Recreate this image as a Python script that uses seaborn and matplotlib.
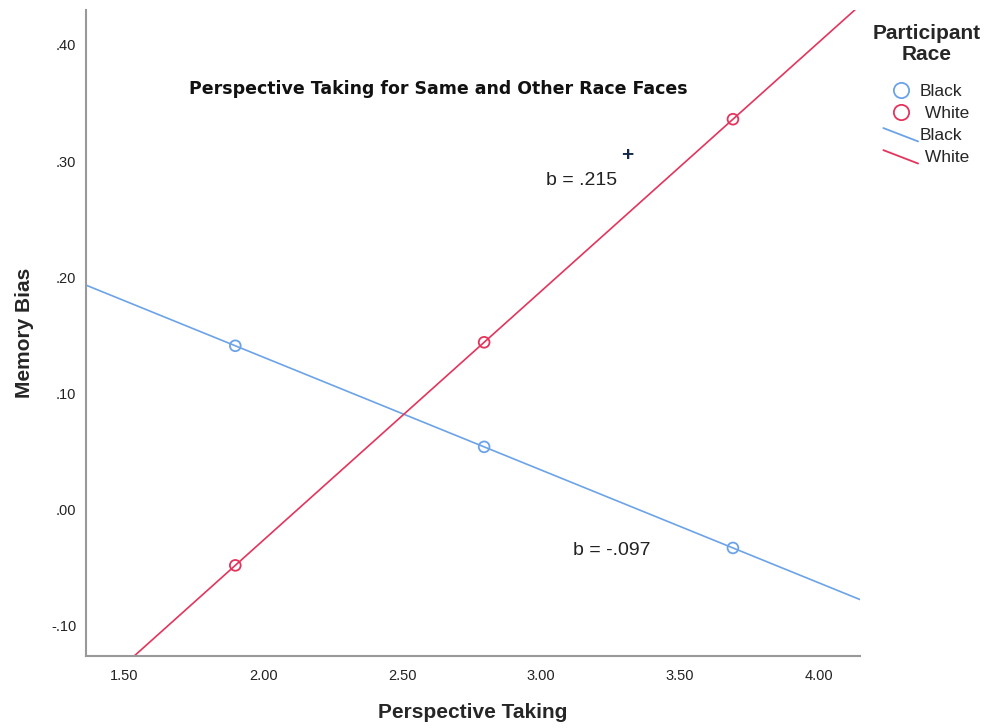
import matplotlib
matplotlib.use("Agg")
import matplotlib.pyplot as plt
import seaborn as sns
import pandas as pd
from matplotlib.lines import Line2D
from matplotlib.legend_handler import HandlerLine2D

# ---- data ----
races = ["Black", "White"]
perspective = [1.90, 2.795, 3.69]
bias_black = [0.141, 0.054, -0.033]
bias_white = [-0.048, 0.144, 0.336]
slope_labels = {"Black": "b = -.097", "White": "b = .215"}
x_ticks = [1.5, 2.0, 2.5, 3.0, 3.5, 4.0]
x_tick_labels = ["1.50", "2.00", "2.50", "3.00", "3.50", "4.00"]
y_ticks = [-0.10, 0.00, 0.10, 0.20, 0.30, 0.40]
y_tick_labels = ["-.10", ".00", ".10", ".20", ".30", ".40"]
colors = {"Black": "#6CA3E8", "White": "#E4345C"}

df = pd.DataFrame({
    "Perspective Taking": perspective * 2,
    "Memory Bias": bias_black + bias_white,
    "Race": ["Black"] * 3 + ["White"] * 3,
})

sns.set_style("white")
plt.rcParams["font.family"] = ["Liberation Sans", "DejaVu Sans"]

fig = plt.figure(figsize=(9.89, 7.28), dpi=100)
ax = fig.add_axes([86 / 989, 1 - 656 / 728, (860 - 86) / 989, (656 - 10) / 728])
ax.set_xlim(1.363, 4.147)
ax.set_ylim(-0.126, 0.430)

for race in races:
    sub = df[df["Race"] == race]
    sns.regplot(data=sub, x="Perspective Taking", y="Memory Bias", ax=ax,
                ci=None, truncate=False, scatter=False,
                line_kws=dict(color=colors[race], lw=1.2))
    sns.scatterplot(data=sub, x="Perspective Taking", y="Memory Bias", ax=ax,
                    marker="o", s=60, facecolor="none",
                    edgecolor=colors[race], linewidth=1.3, zorder=3)

ax.set_xlim(1.363, 4.147)
ax.set_ylim(-0.126, 0.430)
ax.set_xticks(x_ticks)
ax.set_xticklabels(x_tick_labels)
ax.set_yticks(y_ticks)
ax.set_yticklabels(y_tick_labels)
ax.tick_params(axis="both", length=0, labelsize=10.5, colors="#222222")
ax.tick_params(axis="x", pad=9)
ax.tick_params(axis="y", pad=7)
for side in ["top", "right"]:
    ax.spines[side].set_visible(False)
for side in ["left", "bottom"]:
    ax.spines[side].set_color("#999999")
    ax.spines[side].set_linewidth(1.5)

ax.set_xlabel("Perspective Taking", fontsize=15, fontweight="bold", labelpad=15)
ax.set_ylabel("Memory Bias", fontsize=15, fontweight="bold", labelpad=12)

ax.text(0.455, 0.877, "Perspective Taking for Same and Other Race Faces",
        transform=ax.transAxes, ha="center", va="center",
        fontsize=12.5, fontweight="bold", color="#111111", family="DejaVu Sans")
ax.text(3.273, 0.283, slope_labels["White"], ha="right", va="center", fontsize=14, color="#222222")
ax.text(3.254, -0.0355, slope_labels["Black"], ha="center", va="center", fontsize=14, color="#222222")
ax.text(3.309, 0.305, "+", ha="center", va="center", fontsize=15,
        fontweight="bold", color="#13284A")


class DiagHandler(HandlerLine2D):
    def create_artists(self, legend, orig_handle, xdescent, ydescent,
                       width, height, fontsize, trans):
        line = Line2D([-xdescent, -xdescent + width],
                      [height * 1.0, -0.1 * height],
                      color=orig_handle.get_color(), lw=1.3)
        line.set_transform(trans)
        return [line]


handles = [
    Line2D([], [], ls="none", marker="o", mfc="none", mec=colors["Black"], ms=11, mew=1.3),
    Line2D([], [], ls="none", marker="o", mfc="none", mec=colors["White"], ms=11, mew=1.3),
    Line2D([], [], color=colors["Black"], lw=1.3),
    Line2D([], [], color=colors["White"], lw=1.3),
]
labels = ["Black", " White", "Black", " White"]
hmap = {handles[2]: DiagHandler(), handles[3]: DiagHandler()}
leg = fig.legend(handles, labels, handler_map=hmap, title="Participant\nRace",
                 loc="upper left", bbox_to_anchor=(860 / 989, 1 - 12 / 728),
                 frameon=False, fontsize=12.5, handlelength=2.0, handletextpad=0.1,
                 labelspacing=0.4, borderpad=0.2)
leg.get_title().set_fontweight("bold")
leg.get_title().set_fontsize(15)
leg.get_title().set_multialignment("center")
leg.get_title().set_linespacing(1.15)
leg._legend_box.align = "center"
leg._legend_box.sep = 14

fig.savefig("out.png", dpi=100)
